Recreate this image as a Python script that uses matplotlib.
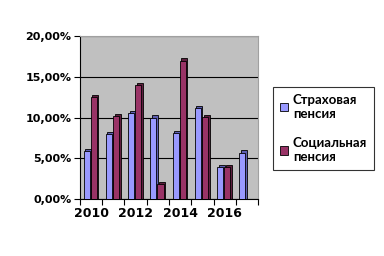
import matplotlib
matplotlib.use("Agg")
import matplotlib.pyplot as plt
import matplotlib.patches as mpatches
from matplotlib.ticker import FuncFormatter

# data (percent)
years = [2010, 2011, 2012, 2013, 2014, 2015, 2016, 2017]
insurance = [5.9, 8.0, 10.5, 10.0, 8.1, 11.2, 3.9, 5.7]
social = [12.5, 10.2, 14.0, 1.8, 17.0, 10.1, 3.9, 0.0]
labels = ["Страховая\nпенсия", "Социальная\nпенсия"]

blue = "#9999FF"
blue_side = "#5C5CB0"
maroon = "#993366"
maroon_side = "#5E1F3F"

plt.rcParams['font.family'] = ['DejaVu Sans']
plt.rcParams['font.weight'] = 'bold'

fig = plt.figure(figsize=(3.84, 2.56), dpi=100)
ax = fig.add_axes([0.208, 0.223, 0.464, 0.636])
ax.set_facecolor("#C0C0C0")

x = range(len(years))
w = 0.27
dx = 0.07
dy = 0.25

for i in x:
    for val, off, c, cs in [(insurance[i], -0.2, blue, blue_side),
                            (social[i], 0.12, maroon, maroon_side)]:
        if val <= 0:
            continue
        # side face for a flat 3D look
        ax.bar(i + off + dx, val + dy, width=w, color=cs, edgecolor="black",
               linewidth=0.6, zorder=2)
        ax.bar(i + off, val, width=w, color=c, edgecolor="black",
               linewidth=0.6, zorder=3)

ax.set_xlim(-0.5, 7.5)
ax.set_ylim(0, 20)
ax.set_yticks([0, 5, 10, 15, 20])
ax.yaxis.set_major_formatter(FuncFormatter(lambda v, p: f"{v:.2f}%".replace(".", ",")))
ax.yaxis.grid(True, color="black", linewidth=0.8, zorder=1)
ax.set_axisbelow(True)

ax.set_xticks([k - 0.5 for k in range(len(years) + 1)])
ax.set_xticklabels([])
ax.set_xticks([0, 2, 4, 6], minor=True)
ax.set_xticklabels([str(years[k]) for k in [0, 2, 4, 6]], minor=True)
ax.tick_params(axis='x', which='minor', length=0, labelsize=9, pad=6)
ax.tick_params(axis='x', which='major', length=4, width=0.8, direction='out')
ax.tick_params(axis='y', length=4, width=0.8, labelsize=8, pad=2)

ax.spines['top'].set_color("#A0A0A0")
ax.spines['right'].set_color("#A0A0A0")
ax.spines['left'].set_color("black")
ax.spines['bottom'].set_color("black")

handles = [mpatches.Patch(facecolor=blue, edgecolor="black", linewidth=0.6),
           mpatches.Patch(facecolor=maroon, edgecolor="black", linewidth=0.6)]
leg = fig.legend(handles, labels, loc='center left', bbox_to_anchor=(0.711, 0.498),
                 prop={'family': 'Lato', 'weight': 'bold', 'size': 9.5},
                 frameon=True, fancybox=False, handlelength=0.6,
                 handleheight=0.6, handletextpad=0.4, borderpad=0.5,
                 labelspacing=1.3, borderaxespad=0)
leg.get_frame().set_edgecolor("black")
leg.get_frame().set_linewidth(0.8)

fig.savefig("out.png", dpi=100)
